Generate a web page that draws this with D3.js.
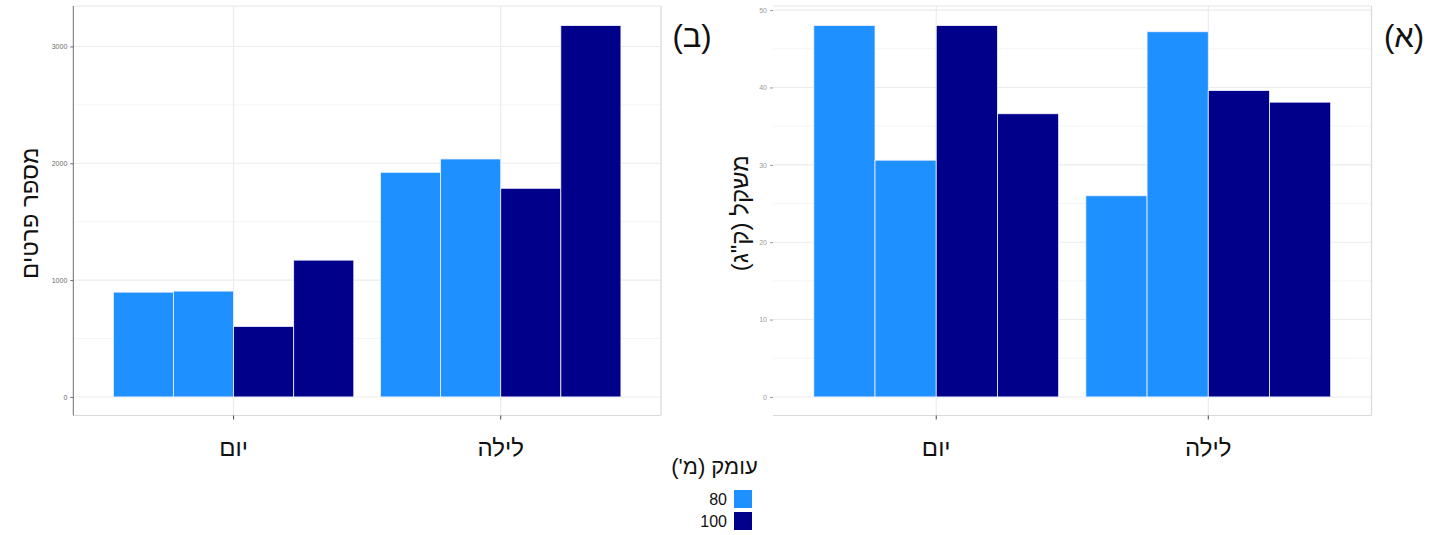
<!DOCTYPE html>
<html><head><meta charset="utf-8">
<script src="https://cdn.jsdelivr.net/npm/d3@7"></script>
<style>
html,body{margin:0;padding:0;background:#fff;}
svg{display:block;font-family:"Liberation Sans",Arial,sans-serif;}
</style></head>
<body>
<svg id="chart" width="1435" height="535"></svg>
<script>
// ---- data ----
const categories = ["יום", "לילה"];
const barDepth = ["80", "80", "100", "100"];
const depthLevels = ["80", "100"];
const depthColors = ["#1E90FF", "#00008B"];
const countYom = [897, 906, 603, 1171];
const countLayla = [1923, 2037, 1786, 3179];
const weightYom = [48.0, 30.6, 48.0, 36.6];
const weightLayla = [26.0, 47.2, 39.6, 38.1];
const countTicks = [0, 1000, 2000, 3000];
const countMinor = [500, 1500, 2500];
const weightTicks = [0, 10, 20, 30, 40, 50];
const weightMinor = [5, 15, 25, 35, 45];
const legendTitle = "עומק (מ')";

const svg = d3.select("#chart");
const color = d3.scaleOrdinal().domain(depthLevels).range(depthColors);

function panel(opts) {
  const {left, right, top, bottom, series, ticks, minor, yTitle, yTitleX, tag, tagX, leftLine, tickColor} = opts;
  const g = svg.append("g");
  const maxV = d3.max(series.flat());
  const y = d3.scaleLinear().domain([-0.05 * maxV, 1.05 * maxV]).range([bottom, top]);
  const x = d3.scaleBand().domain(categories).range([left, right]).paddingInner(0.1).paddingOuter(0.15);
  const xi = d3.scaleBand().domain(d3.range(barDepth.length)).range([0, x.bandwidth()]);
  const step = x.step();

  // minor grid
  g.selectAll(".mn").data(minor).join("line")
    .attr("x1", left).attr("x2", right)
    .attr("y1", d => y(d)).attr("y2", d => y(d))
    .attr("stroke", "#f4f4f4").attr("stroke-width", 1);
  // major grid
  g.selectAll(".mj").data(ticks).join("line")
    .attr("x1", left).attr("x2", right)
    .attr("y1", d => y(d)).attr("y2", d => y(d))
    .attr("stroke", "#ebebeb").attr("stroke-width", 1.1);
  g.selectAll(".vg").data(categories).join("line")
    .attr("x1", d => x(d) + x.bandwidth() / 2).attr("x2", d => x(d) + x.bandwidth() / 2)
    .attr("y1", top - 1).attr("y2", bottom)
    .attr("stroke", "#ebebeb").attr("stroke-width", 1.1);

  // bars
  categories.forEach((c, ci) => {
    g.selectAll(".b" + ci).data(series[ci]).join("rect")
      .attr("x", (d, i) => x(c) + xi(i))
      .attr("width", xi.bandwidth())
      .attr("y", d => y(d))
      .attr("height", d => y(0) - y(d))
      .attr("fill", (d, i) => color(barDepth[i]))
      .attr("stroke", "#f2f2ff").attr("stroke-width", 0.8);
  });

  // panel border
  g.append("line").attr("x1", left).attr("x2", right).attr("y1", top - 1).attr("y2", top - 1).attr("stroke", "#e6e6e6");
  g.append("line").attr("x1", right).attr("x2", right).attr("y1", top - 1).attr("y2", bottom).attr("stroke", "#d9d9d9").attr("stroke-width", 1.2);
  g.append("line").attr("x1", left).attr("x2", right).attr("y1", bottom).attr("y2", bottom).attr("stroke", "#d9d9d9").attr("stroke-width", 1.2);
  if (leftLine) {
    g.append("line").attr("x1", left).attr("x2", left).attr("y1", top - 1).attr("y2", bottom).attr("stroke", "#6e6e6e").attr("stroke-width", 1);
  }

  // y axis ticks
  const yAxis = d3.axisLeft(y).tickValues(ticks).tickSize(3).tickPadding(3).tickFormat(d3.format("d"));
  const ya = g.append("g").attr("transform", `translate(${left},0)`).call(yAxis);
  ya.select(".domain").remove();
  ya.selectAll(".tick line").attr("stroke", tickColor);
  ya.selectAll(".tick text").attr("fill", tickColor).attr("font-size", 7).attr("font-family", "Liberation Sans, Arial, sans-serif");

  // x axis
  const xAxis = d3.axisBottom(x).tickSize(4).tickPadding(14);
  const xa = g.append("g").attr("transform", `translate(0,${bottom})`).call(xAxis);
  xa.select(".domain").remove();
  xa.selectAll(".tick line").attr("stroke", "#444");
  xa.selectAll(".tick text").attr("fill", "#111").attr("font-size", 24)
    .attr("direction", "rtl").attr("dy", "0.95em")
    .attr("font-family", "Liberation Sans, Arial, sans-serif");

  // y title
  g.append("text").attr("transform", `translate(${yTitleX},${(top + bottom) / 2 + 2}) rotate(-90)`)
    .attr("text-anchor", "middle").attr("direction", "rtl").attr("font-size", 24).attr("fill", "#111")
    .text(yTitle);

  // tag
  g.append("text").attr("x", tagX).attr("y", 47).attr("text-anchor", "middle")
    .attr("direction", "rtl").attr("font-size", 31).attr("fill", "#111").text(tag);
}

panel({left: 73.3, right: 661, top: 7, bottom: 415.5,
  series: [countYom, countLayla], ticks: countTicks, minor: countMinor,
  yTitle: "מספר פרטים", yTitleX: 38, tag: "(ב)", tagX: 692, leftLine: true, tickColor: "#6a6a6a"});

panel({left: 773, right: 1371.5, top: 7, bottom: 415.5,
  series: [weightYom, weightLayla], ticks: weightTicks, minor: weightMinor,
  yTitle: "משקל (ק\"ג)", yTitleX: 748, tag: "(א)", tagX: 1404, leftLine: false, tickColor: "#9a9a9a"});

// legend
const lg = svg.append("g");
lg.append("text").attr("x", 714.5).attr("y", 474).attr("text-anchor", "middle")
  .attr("direction", "rtl").attr("font-size", 22).attr("fill", "#111").text(legendTitle);
lg.selectAll("rect").data(depthLevels).join("rect")
  .attr("x", 734).attr("y", (d, i) => 490 + i * 22).attr("width", 18).attr("height", 18)
  .attr("fill", d => color(d));
lg.selectAll(".lt").data(depthLevels).join("text")
  .attr("x", 727).attr("y", (d, i) => 505 + i * 22).attr("text-anchor", "end")
  .attr("font-size", 16).attr("fill", "#111").text(d => d);
</script>
</body></html>
